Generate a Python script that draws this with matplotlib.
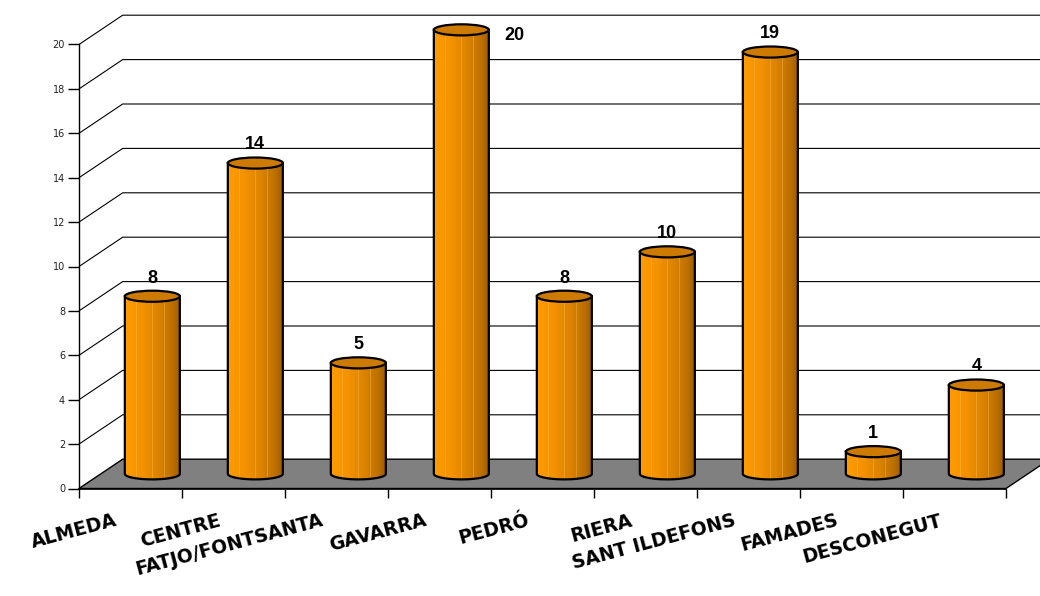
import numpy as np
import matplotlib
matplotlib.use("Agg")
import matplotlib.pyplot as plt
from matplotlib.patches import Polygon, Ellipse, PathPatch
from matplotlib.path import Path
from matplotlib.colors import LinearSegmentedColormap

# Data
categories = ["ALMEDA", "CENTRE", "FATJO/FONTSANTA", "GAVARRA", "PEDRÓ",
              "RIERA", "SANT ILDEFONS", "FAMADES", "DESCONEGUT"]
values = [8, 14, 5, 20, 8, 10, 19, 1, 4]
y_ticks = [0, 2, 4, 6, 8, 10, 12, 14, 16, 18, 20]

W, H = 1040, 596
fig = plt.figure(figsize=(W / 100, H / 100), dpi=100)
fig.patch.set_facecolor("white")
ax = fig.add_axes([79 / W, 107.5 / H, 927 / W, 444 / H])
ax.set_facecolor("none")

n = len(categories)
ymax = 20
ax.set_xlim(0, n)
ax.set_ylim(0, ymax)

# oblique depth of the 3-D box, in data units
DX = 0.424
DY = 1.32

# floor
floor = Polygon([(0, 0), (n, 0), (n + DX, DY), (DX, DY)], closed=True,
                facecolor="#808080", edgecolor="black", lw=1.0,
                clip_on=False, zorder=1)
ax.add_patch(floor)

# side and back wall gridlines
for t in y_ticks[1:]:
    ax.plot([0, DX, n + DX + 1], [t, t + DY, t + DY], color="black", lw=0.8,
            clip_on=False, zorder=1, solid_capstyle="butt")

# cylinders
hw = 0.267
eh = 0.25
grad = LinearSegmentedColormap.from_list(
    "cyl", [(0.0, "#FF9C00"), (0.3, "#F49200"), (0.6, "#DC8300"),
            (0.85, "#BC7000"), (1.0, "#985800")])
g = grad(np.linspace(0, 1, 256))[None, :, :]

for i, v in enumerate(values):
    c = i + 0.5 + DX / 2
    base = DY / 2
    top = v + DY / 2
    th = np.linspace(np.pi, 2 * np.pi, 60)
    arc = np.column_stack([c + hw * np.cos(th), base + eh * np.sin(th)])
    verts = np.vstack([[c - hw, top], arc, [c + hw, top], [c - hw, top]])
    body = Path(verts, closed=True)
    outline = PathPatch(body, facecolor="none", edgecolor="black", lw=1.6,
                        zorder=4, clip_on=False)
    im = ax.imshow(g, extent=(c - hw, c + hw, base - eh, top), aspect="auto",
                   zorder=3, interpolation="bilinear")
    clip = PathPatch(body, transform=ax.transData, facecolor="none",
                     edgecolor="none")
    im.set_clip_path(clip)
    im.set_clip_box(fig.bbox)
    ax.add_patch(outline)
    for fx in (0.2, 0.5, 0.72):
        xx = c - hw + 2 * hw * fx
        ax.plot([xx, xx], [base - eh * 0.6, top - eh * 0.6], color="#FFC060",
                lw=0.6, alpha=0.45, zorder=3.5, clip_on=False)
    cap = Ellipse((c, top), 2 * hw, 2 * eh, facecolor="#CC7A00",
                  edgecolor="black", lw=1.6, zorder=5, clip_on=False)
    ax.add_patch(cap)

    # value label
    if v >= ymax:
        ax.annotate(str(v), xy=(c + hw, top), xytext=(16, -6),
                    textcoords="offset pixels", ha="left", va="center",
                    fontsize=13, fontweight="bold", family="Liberation Sans",
                    annotation_clip=False, zorder=6)
    else:
        ax.annotate(str(v), xy=(c, top + eh), xytext=(0, 8),
                    textcoords="offset pixels", ha="center", va="baseline",
                    fontsize=13, fontweight="bold", family="Liberation Sans",
                    annotation_clip=False, zorder=6)

ax.set_xlim(0, n)
ax.set_ylim(0, ymax)

# axes styling
for s in ("top", "right"):
    ax.spines[s].set_visible(False)
ax.spines["left"].set_color("black")
ax.spines["left"].set_linewidth(1.0)
ax.spines["bottom"].set_color("black")
ax.spines["bottom"].set_linewidth(1.2)
ax.spines["left"].set_zorder(2)
ax.spines["bottom"].set_zorder(2)

ax.set_yticks(y_ticks)
ax.set_yticklabels([str(t) for t in y_ticks])
ax.tick_params(axis="y", direction="out", length=8, width=1.0, pad=2,
               labelsize=7, labelcolor="#222222")
ax.set_xticks(np.arange(n + 1))
ax.set_xticklabels([])
ax.tick_params(axis="x", direction="out", length=6.5, width=1.0)

# category labels
for i, name in enumerate(categories):
    ax.annotate(name, xy=(i + 0.5, 0), xycoords=("data", "data"),
                xytext=(-12, -37), textcoords="offset pixels",
                ha="right", va="baseline", rotation=15, rotation_mode="anchor",
                fontsize=13.5, fontweight="bold", family="DejaVu Sans",
                annotation_clip=False)

fig.savefig("out.png", dpi=100, facecolor="white")
